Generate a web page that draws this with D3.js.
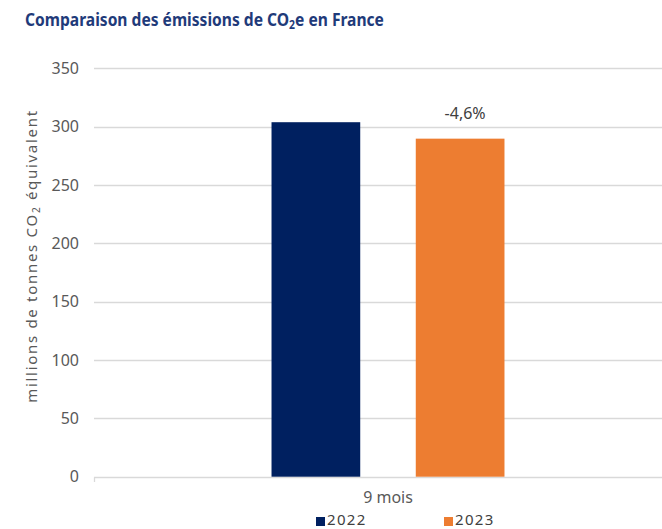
<!DOCTYPE html>
<html><head><meta charset="utf-8">
<script src="https://cdn.jsdelivr.net/npm/d3@7"></script>
<style>
html,body{margin:0;padding:0;background:#fff;}
svg{display:block;}
text{font-family:"Noto Sans","DejaVu Sans",sans-serif;}
</style></head>
<body>
<svg id="chart" width="662" height="529"></svg>
<script>
const categories = ["9 mois"];
const seriesNames = ["2022", "2023"];
const values2022 = [303.8];
const values2023 = [289.7];
const dataLabels2022 = [""];
const dataLabels2023 = ["-4,6%"];
const yTicks = [0, 50, 100, 150, 200, 250, 300, 350];
const colors = ["#002060", "#ED7D31"];

const svg = d3.select("#chart");
const W = 662, H = 529;

const y = d3.scaleLinear().domain([0, 350]).range([476.7, 68.3]);
const plotLeft = 94, plotRight = 682;
const x0 = d3.scaleBand().domain(categories).range([plotLeft, plotRight]).paddingInner(0).paddingOuter(0.762);
const x1 = d3.scaleBand().domain(seriesNames).range([0, x0.bandwidth()]).paddingInner(0.385).paddingOuter(0);
const color = d3.scaleOrdinal().domain(seriesNames).range(colors);

// Title
const title = svg.append("text")
  .attr("transform", "translate(25,26) scale(0.867,1)")
  .attr("font-size", 18).attr("font-weight", "bold").attr("fill", "#1F3B7A");
title.append("tspan").text("Comparaison des émissions de CO");
title.append("tspan").attr("font-size", 12).attr("dy", 3).text("2");
title.append("tspan").attr("dy", -3).text("e en France");

// Gridlines
svg.append("g").selectAll("line").data(yTicks).join("line")
  .attr("x1", plotLeft).attr("x2", W)
  .attr("y1", d => Math.round(y(d)) + 0.5).attr("y2", d => Math.round(y(d)) + 0.5)
  .attr("stroke", "#D9D9D9").attr("stroke-width", 1.3);

// left tick at baseline
svg.append("line").attr("x1", plotLeft + 0.5).attr("x2", plotLeft + 0.5)
  .attr("y1", Math.round(y(0)) + 0.5).attr("y2", Math.round(y(0)) + 5)
  .attr("stroke", "#D9D9D9").attr("stroke-width", 1.3);

// Y tick labels
svg.append("g").selectAll("text").data(yTicks).join("text")
  .attr("x", 79).attr("y", d => y(d)).attr("dy", "0.35em")
  .attr("text-anchor", "end").attr("font-size", 16).attr("fill", "#595959")
  .text(d => d);

// Y axis title
const yt = svg.append("text")
  .attr("transform", "translate(37,256) rotate(-90)")
  .attr("text-anchor", "middle").attr("font-size", 15).attr("fill", "#595959")
  .attr("letter-spacing", 1.7);
yt.append("tspan").text("millions de tonnes CO");
yt.append("tspan").attr("font-size", 10).attr("dy", 3).text("2");
yt.append("tspan").attr("dy", -3).text(" équivalent");

// Bars
const rows = categories.map((c, i) => ({
  cat: c,
  items: [
    {s: seriesNames[0], v: values2022[i], lab: dataLabels2022[i]},
    {s: seriesNames[1], v: values2023[i], lab: dataLabels2023[i]}
  ]
}));
const g = svg.append("g").selectAll("g").data(rows).join("g")
  .attr("transform", d => `translate(${x0(d.cat)},0)`);
g.selectAll("rect").data(d => d.items).join("rect")
  .attr("x", d => x1(d.s)).attr("width", x1.bandwidth())
  .attr("y", d => y(d.v)).attr("height", d => y(0) - y(d.v))
  .attr("fill", d => color(d.s));
g.selectAll("text.lab").data(d => d.items.filter(e => e.lab)).join("text")
  .attr("class", "lab")
  .attr("x", d => x1(d.s) + x1.bandwidth() / 2 + 5).attr("y", d => y(d.v) - 20)
  .attr("text-anchor", "middle").attr("font-size", 16).attr("fill", "#404040")
  .text(d => d.lab);

// Category label
svg.append("g").selectAll("text").data(categories).join("text")
  .attr("x", d => x0(d) + x0.bandwidth() / 2).attr("y", 503)
  .attr("text-anchor", "middle").attr("font-size", 16).attr("fill", "#595959")
  .text(d => d);

// Legend
const legX = [316, 444];
const leg = svg.append("g").selectAll("g").data(seriesNames).join("g")
  .attr("transform", (d, i) => `translate(${legX[i]},0)`);
leg.append("rect").attr("x", 0).attr("y", 517).attr("width", 9).attr("height", 9)
  .attr("fill", d => color(d));
leg.append("text").attr("x", 11).attr("y", 524.5).attr("font-size", 15).attr("fill", "#404040")
  .attr("letter-spacing", 1.3)
  .text(d => d);
</script>
</body></html>
